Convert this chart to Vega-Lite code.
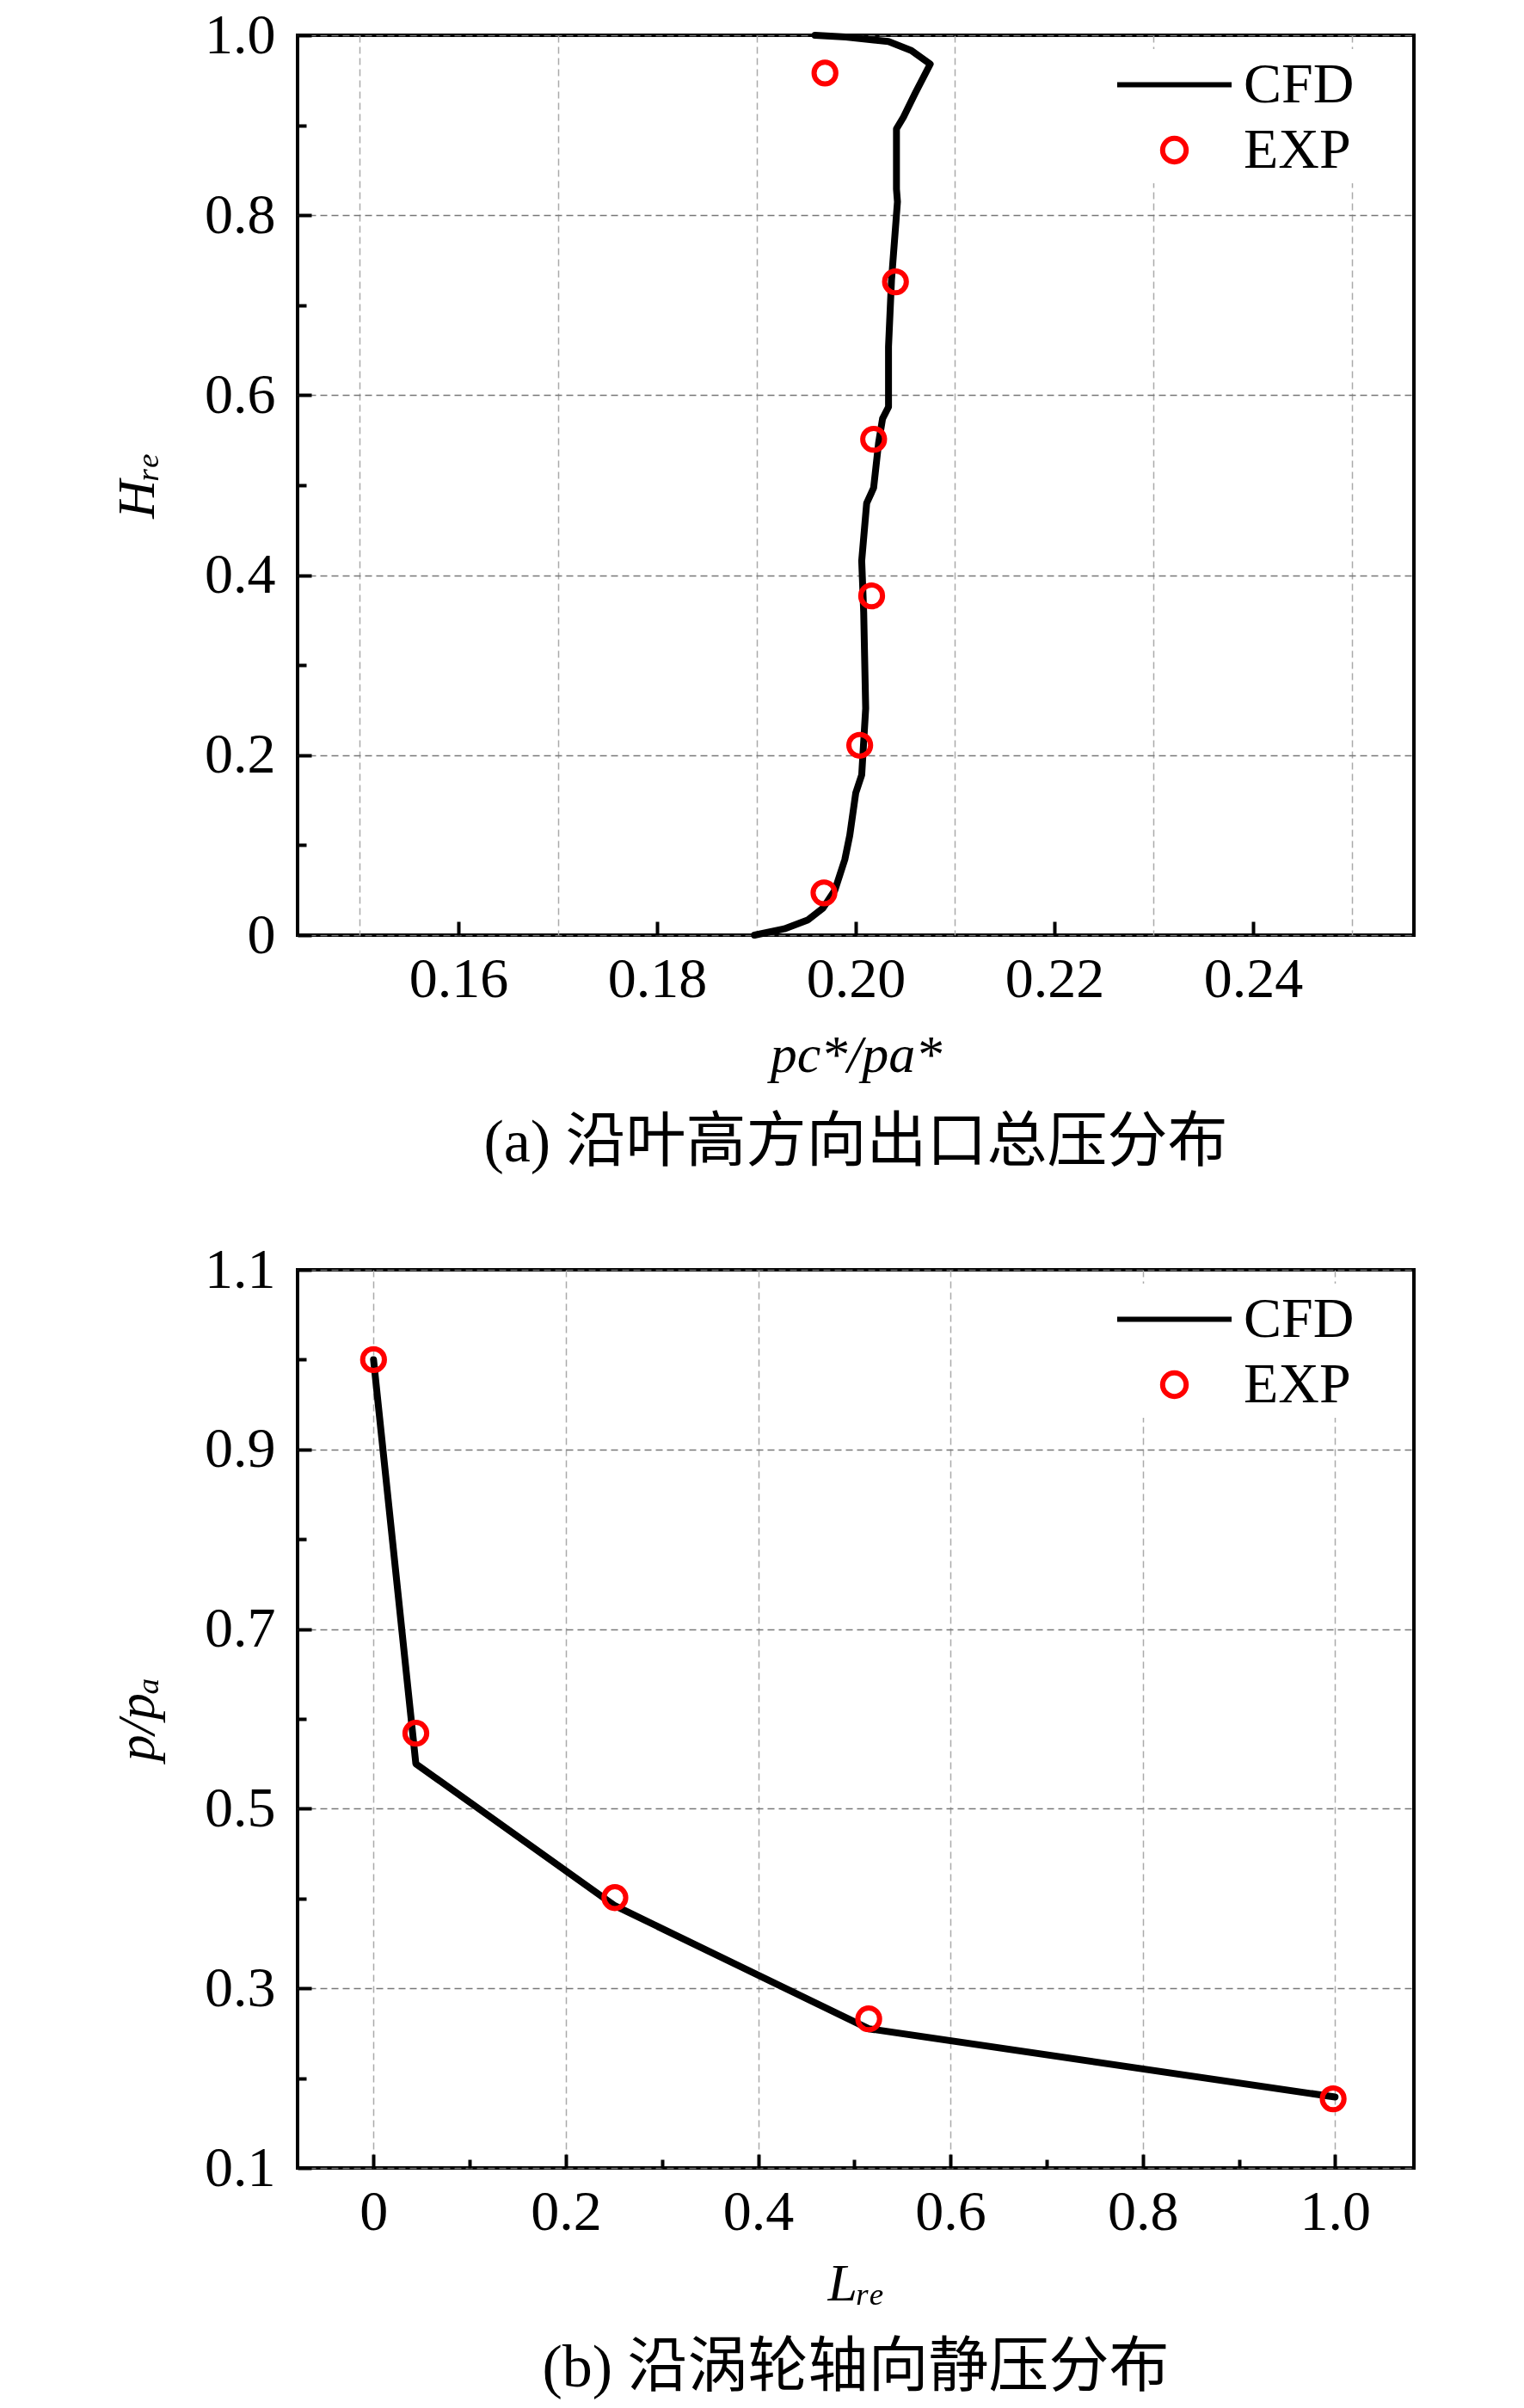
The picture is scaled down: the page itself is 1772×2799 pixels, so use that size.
{
  "$schema": "https://vega.github.io/schema/vega-lite/v6.json",
  "background": "white",
  "padding": {"left": 126, "top": 6, "right": 20, "bottom": 0},
  "spacing": 75,
  "datasets": {
    "cfdA": [
      {"ratio": 0.1898, "h": 0},
      {"ratio": 0.1928, "h": 0.007},
      {"ratio": 0.1952, "h": 0.017},
      {"ratio": 0.1967, "h": 0.030},
      {"ratio": 0.1979, "h": 0.050},
      {"ratio": 0.1989, "h": 0.084},
      {"ratio": 0.1994, "h": 0.111},
      {"ratio": 0.2000, "h": 0.158},
      {"ratio": 0.2006, "h": 0.178},
      {"ratio": 0.2010, "h": 0.252},
      {"ratio": 0.2008, "h": 0.359},
      {"ratio": 0.2006, "h": 0.416},
      {"ratio": 0.2011, "h": 0.480},
      {"ratio": 0.2018, "h": 0.497},
      {"ratio": 0.2023, "h": 0.547},
      {"ratio": 0.2027, "h": 0.574},
      {"ratio": 0.2033, "h": 0.587},
      {"ratio": 0.2033, "h": 0.654},
      {"ratio": 0.2036, "h": 0.728},
      {"ratio": 0.2042, "h": 0.815},
      {"ratio": 0.2041, "h": 0.829},
      {"ratio": 0.2041, "h": 0.896},
      {"ratio": 0.2048, "h": 0.909},
      {"ratio": 0.2060, "h": 0.936},
      {"ratio": 0.2075, "h": 0.968},
      {"ratio": 0.2056, "h": 0.983},
      {"ratio": 0.2033, "h": 0.993},
      {"ratio": 0.1990, "h": 0.998},
      {"ratio": 0.1959, "h": 1.0}
    ],
    "expA": [
      {"ratio": 0.1969, "h": 0.958},
      {"ratio": 0.2040, "h": 0.726},
      {"ratio": 0.2018, "h": 0.551},
      {"ratio": 0.2016, "h": 0.377},
      {"ratio": 0.2004, "h": 0.211},
      {"ratio": 0.1968, "h": 0.047}
    ],
    "cfdB": [
      {"l": 0.0, "p": 1.0},
      {"l": 0.044, "p": 0.550},
      {"l": 0.251, "p": 0.392},
      {"l": 0.515, "p": 0.255},
      {"l": 1.0, "p": 0.179}
    ],
    "expB": [
      {"l": 0.0, "p": 1.0},
      {"l": 0.044, "p": 0.584},
      {"l": 0.251, "p": 0.401},
      {"l": 0.515, "p": 0.266},
      {"l": 0.998, "p": 0.177}
    ]
  },
  "config": {
    "font": "Liberation Serif, Noto Sans CJK SC",
    "view": {"stroke": "black", "strokeWidth": 4},
    "axis": {
      "domain": false,
      "labelFont": "Liberation Serif",
      "labelFontSize": 66,
      "labelColor": "black",
      "labelFlush": false,
      "labelOverlap": false,
      "titleFont": "Liberation Serif",
      "titleFontSize": 62,
      "titleFontWeight": "normal",
      "titleFontStyle": "italic",
      "titleColor": "black",
      "tickColor": "black",
      "tickWidth": 4,
      "gridDash": [8, 5],
      "gridWidth": 1.5,
      "gridColor": "#777777"
    },
    "legend": {
      "labelFont": "Liberation Serif",
      "labelFontSize": 66,
      "labelColor": "black"
    },
    "title": {
      "font": "Liberation Serif, Noto Sans CJK SC",
      "fontSize": 70,
      "fontWeight": "normal",
      "color": "black",
      "orient": "bottom",
      "anchor": "middle"
    }
  },
  "resolve": {"scale": {"color": "independent"}},
  "vconcat": [
    {
      "width": 1298,
      "height": 1046,
      "title": {"text": "(a) 沿叶高方向出口总压分布", "orient": "bottom", "offset": 38},
      "layer": [
        {
          "data": {"name": "cfdA"},
          "mark": {"type": "line", "strokeWidth": 8, "strokeJoin": "round", "strokeCap": "round"},
          "encoding": {
            "x": {
              "field": "ratio", "type": "quantitative",
              "scale": {"domain": [0.1438, 0.2562], "nice": false, "zero": false},
              "axis": {"values": [0.16, 0.18, 0.2, 0.22, 0.24], "format": ".2f", "grid": false, "tickSize": -16, "labelPadding": 35, "title": "pc*/pa*", "titlePadding": 25}
            },
            "y": {
              "field": "h", "type": "quantitative",
              "scale": {"domain": [0, 1], "nice": false},
              "axis": {"values": [0, 0.2, 0.4, 0.6, 0.8, 1.0], "labelExpr": "datum.value == 0 ? '0' : format(datum.value, '.1f')", "grid": true, "tickSize": -16, "labelPadding": 42, "title": "Hᵣₑ", "titlePadding": 46}
            },
            "order": {"field": "h", "type": "quantitative"},
            "color": {
              "datum": "CFD", "type": "nominal",
              "scale": {"domain": ["CFD", "EXP"], "range": ["black", "#ff0000"]},
              "legend": {
                "title": null, "orient": "none", "legendX": 978, "legendY": 16,
                "padding": 5, "fillColor": "white", "rowPadding": 6,
                "symbolSize": 4422, "symbolStrokeWidth": 6, "labelOffset": 44,
                "encode": {"symbols": {"update": {
                  "shape": {"signal": "datum.value === 'CFD' ? 'M-2,0H2' : 'M-0.412,0A0.412,0.412,0,1,0,0.412,0A0.412,0.412,0,1,0,-0.412,0Z'"},
                  "size": {"value": 4422},
                  "stroke": {"signal": "datum.value === 'CFD' ? 'black' : '#ff0000'"},
                  "fill": {"value": "transparent"},
                  "opacity": {"value": 1}
                }}}
              }
            }
          }
        },
        {
          "data": {"name": "expA"},
          "mark": {"type": "point", "filled": false, "strokeWidth": 6, "size": 640, "opacity": 1},
          "encoding": {
            "x": {
              "field": "ratio", "type": "quantitative",
              "axis": {"values": [0.15, 0.17, 0.19, 0.21, 0.23, 0.25], "orient": "bottom", "grid": true, "gridColor": "#aaaaaa", "ticks": false, "labels": false, "title": null}
            },
            "y": {
              "field": "h", "type": "quantitative",
              "axis": {"values": [0.1, 0.3, 0.5, 0.7, 0.9], "orient": "left", "grid": false, "tickSize": -10, "labels": false, "title": null}
            },
            "color": {"datum": "EXP", "type": "nominal"}
          }
        }
      ],
      "resolve": {"axis": {"x": "independent", "y": "independent"}}
    },
    {
      "width": 1298,
      "height": 1044,
      "title": {"text": "(b) 沿涡轮轴向静压分布", "orient": "bottom", "offset": 34},
      "layer": [
        {
          "data": {"name": "cfdB"},
          "mark": {"type": "line", "strokeWidth": 8, "strokeJoin": "round", "strokeCap": "round"},
          "encoding": {
            "x": {
              "field": "l", "type": "quantitative",
              "scale": {"domain": [-0.079, 1.082], "nice": false, "zero": false},
              "axis": {"values": [0, 0.2, 0.4, 0.6, 0.8, 1.0], "labelExpr": "datum.value == 0 ? '0' : format(datum.value, '.1f')", "grid": true, "gridColor": "#aaaaaa", "tickSize": -16, "labelPadding": 35, "title": "Lᵣₑ", "titlePadding": 20}
            },
            "y": {
              "field": "p", "type": "quantitative",
              "scale": {"domain": [0.1, 1.1], "nice": false, "zero": false},
              "axis": {"values": [0.1, 0.3, 0.5, 0.7, 0.9, 1.1], "format": ".1f", "grid": true, "tickSize": -16, "labelPadding": 42, "title": "p/pₐ", "titlePadding": 46}
            },
            "color": {
              "datum": "CFD", "type": "nominal",
              "scale": {"domain": ["CFD", "EXP"], "range": ["black", "#ff0000"]},
              "legend": {
                "title": null, "orient": "none", "legendX": 978, "legendY": 16,
                "padding": 5, "fillColor": "white", "rowPadding": 6,
                "symbolSize": 4422, "symbolStrokeWidth": 6, "labelOffset": 44,
                "encode": {"symbols": {"update": {
                  "shape": {"signal": "datum.value === 'CFD' ? 'M-2,0H2' : 'M-0.412,0A0.412,0.412,0,1,0,0.412,0A0.412,0.412,0,1,0,-0.412,0Z'"},
                  "size": {"value": 4422},
                  "stroke": {"signal": "datum.value === 'CFD' ? 'black' : '#ff0000'"},
                  "fill": {"value": "transparent"},
                  "opacity": {"value": 1}
                }}}
              }
            }
          }
        },
        {
          "data": {"name": "expB"},
          "mark": {"type": "point", "filled": false, "strokeWidth": 6, "size": 640, "opacity": 1},
          "encoding": {
            "x": {
              "field": "l", "type": "quantitative",
              "axis": {"values": [0.1, 0.3, 0.5, 0.7, 0.9], "orient": "bottom", "grid": false, "tickSize": -10, "labels": false, "title": null}
            },
            "y": {
              "field": "p", "type": "quantitative",
              "axis": {"values": [0.2, 0.4, 0.6, 0.8, 1.0], "orient": "left", "grid": false, "tickSize": -10, "labels": false, "title": null}
            },
            "color": {"datum": "EXP", "type": "nominal"}
          }
        }
      ],
      "resolve": {"axis": {"x": "independent", "y": "independent"}}
    }
  ]
}
